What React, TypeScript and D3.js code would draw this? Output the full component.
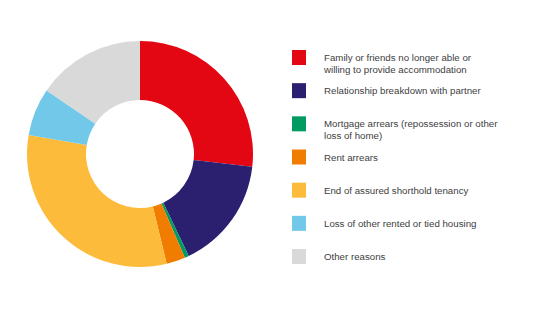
import React from "react";
import * as d3 from "d3";

const categories = [
  ["Family or friends no longer able or", "willing to provide accommodation"],
  ["Relationship breakdown with partner"],
  ["Mortgage arrears (repossession or other", "loss of home)"],
  ["Rent arrears"],
  ["End of assured shorthold tenancy"],
  ["Loss of other rented or tied housing"],
  ["Other reasons"],
];
const values = [26.8, 16.1, 0.6, 2.7, 31.5, 6.8, 15.5];
const colors = ["#e30613", "#2b2070", "#009a62", "#f07c00", "#fdbb3b", "#72c8e8", "#d9d9d9"];

export default function App() {
  const W = 540, H = 321;
  const cx = 140, cy = 154, outerR = 113, innerR = 54;
  const pie = d3.pie<number>().sort(null).value((d) => d)(values);
  const arc = d3.arc<d3.PieArcDatum<number>>().innerRadius(innerR).outerRadius(outerR);
  const legendY = d3.scaleLinear().domain([0, 6]).range([50, 249]);
  return (
    <svg width={W} height={H} style={{ position: "absolute", left: 0, top: 0, background: "#fff" }}>
      <g transform={`translate(${cx},${cy})`}>
        {pie.map((p, i) => (
          <path key={i} d={arc(p) || ""} fill={colors[i]} />
        ))}
      </g>
      <g fontFamily="Liberation Sans, Arial, sans-serif" fontSize={9.7} fill="#404040">
        {categories.map((lines, i) => {
          const y = legendY(i);
          return (
            <g key={i}>
              <rect x={292} y={y} width={14} height={15} fill={colors[i]} />
              {lines.map((t, j) => (
                <text key={j} x={324} y={y + 11 + j * 11.5}>{t}</text>
              ))}
            </g>
          );
        })}
      </g>
    </svg>
  );
}
